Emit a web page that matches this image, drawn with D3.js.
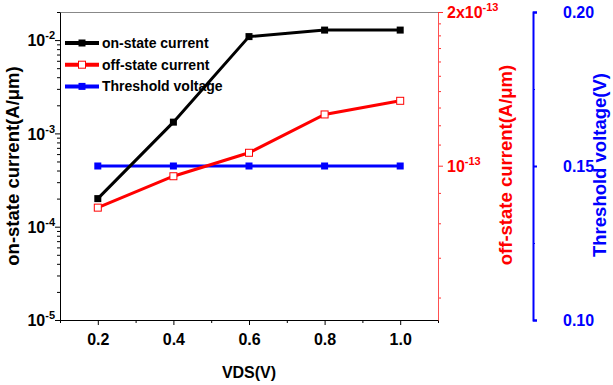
<!DOCTYPE html>
<html>
<head>
<meta charset="utf-8">
<script src="https://cdn.jsdelivr.net/npm/d3@7"></script>
<style>
  body { margin: 0; background: #fff; }
  text { font-family: "Liberation Sans", Arial, sans-serif; font-weight: bold; }
</style>
</head>
<body>
<div id="chart"></div>
<script>
// data
var vds = [0.2, 0.4, 0.6, 0.8, 1.0];
var onCurrent = [2.0e-4, 1.32e-3, 1.09e-2, 1.28e-2, 1.28e-2];
var offCurrent = [8.5e-14, 9.6e-14, 1.06e-13, 1.26e-13, 1.34e-13];
var vth = [0.15, 0.15, 0.15, 0.15, 0.15];

var xTicks = [0.2, 0.4, 0.6, 0.8, 1.0];
var onMajor = [1e-5, 1e-4, 1e-3, 1e-2];
var offMajor = [1e-13, 2e-13];
var offMinor = [6e-14, 7e-14, 8e-14, 9e-14, 1.1e-13, 1.2e-13, 1.3e-13, 1.4e-13, 1.5e-13, 1.6e-13, 1.7e-13, 1.8e-13, 1.9e-13];
var vthTicks = [0.10, 0.15, 0.20];
var vthMinor = [0.125, 0.175];

var legendItems = [
  {name: "on-state current", color: "#000", fill: "#000"},
  {name: "off-state current", color: "#ff0000", fill: "#fff"},
  {name: "Threshold voltage", color: "#0000ff", fill: "#0000ff"}
];

// plot box (named so they don't clash with window.top etc.)
var width = 613, height = 385;
var plotLeft = 60, plotRight = 438, plotTop = 12, plotBottom = 320;
var blueX = 533;

var svg = d3.select("#chart").append("svg")
    .attr("width", width)
    .attr("height", height);

// scales
var x = d3.scaleLinear().domain([0.1, 1.1]).range([plotLeft, plotRight]);
var yOn = d3.scaleLog().domain([1e-5, 2e-2]).range([plotBottom, plotTop]);
var yOff = d3.scaleLog().domain([5.5e-14, 1e-13, 2e-13]).range([plotBottom, 165.7, plotTop]);
var yVth = d3.scaleLinear().domain([0.10, 0.20]).range([plotBottom, plotTop]);

// minor ticks for the log axis (2..9 of every decade)
var onMinor = [];
for (var e = -5; e <= -2; e++) {
  for (var k = 2; k <= 9; k++) {
    var v = k * Math.pow(10, e);
    if (v <= 2e-2) onMinor.push(v);
  }
}

// top frame
svg.append("line")
    .attr("x1", plotLeft).attr("x2", plotRight)
    .attr("y1", plotTop + 0.5).attr("y2", plotTop + 0.5)
    .attr("stroke", "#888").attr("stroke-width", 1);

// x axis
var xMinor = [0.1, 0.3, 0.5, 0.7, 0.9, 1.1];
svg.append("g")
    .attr("transform", "translate(0," + plotBottom + ")")
    .call(d3.axisBottom(x).tickValues(xMinor).tickSize(3).tickFormat(""))
    .call(g => g.select(".domain").remove());
svg.append("g")
    .attr("transform", "translate(0," + plotBottom + ")")
    .call(d3.axisBottom(x).tickValues(xTicks).tickSize(5).tickSizeOuter(0)
        .tickFormat(d3.format(".1f")))
    .call(g => g.selectAll("text").attr("font-size", 16).attr("dy", "1.05em").attr("fill", "#000"));

svg.append("text")
    .attr("x", x(0.6)).attr("y", 378)
    .attr("text-anchor", "middle")
    .attr("font-size", 16)
    .text("VDS(V)");

// left axis (on-state current)
svg.append("g")
    .attr("transform", "translate(" + plotLeft + ",0)")
    .call(d3.axisLeft(yOn).tickValues(onMinor).tickSize(3).tickFormat(""))
    .call(g => g.select(".domain").remove());
var leftAxis = svg.append("g")
    .attr("transform", "translate(" + plotLeft + ",0)")
    .call(d3.axisLeft(yOn).tickValues(onMajor).tickSize(5).tickSizeOuter(0).tickFormat(""));

leftAxis.selectAll(".tick").append("text")
    .attr("x", -5).attr("dy", "0.35em")
    .attr("text-anchor", "end")
    .attr("fill", "#000")
    .attr("font-size", 16)
    .each(function(d) {
      var t = d3.select(this);
      t.append("tspan").text("10");
      t.append("tspan").attr("dy", -7).attr("font-size", 11).text(Math.round(Math.log10(d)));
    });

svg.append("text")
    .attr("transform", "translate(19,166) rotate(-90)")
    .attr("text-anchor", "middle")
    .attr("font-size", 18.5)
    .text("on-state current(A/\u03bcm)");

// right axis (off-state current)
svg.append("g")
    .attr("transform", "translate(" + plotRight + ",0)")
    .call(d3.axisRight(yOff).tickValues(offMinor).tickSize(3).tickFormat(""))
    .call(g => g.select(".domain").remove())
    .call(g => g.selectAll("line").attr("stroke", "#ff3030"));
var offAxis = svg.append("g")
    .attr("transform", "translate(" + plotRight + ",0)")
    .call(d3.axisRight(yOff).tickValues(offMajor).tickSize(5).tickSizeOuter(0).tickFormat(""))
    .call(g => g.select(".domain").attr("stroke", "#ff5050"))
    .call(g => g.selectAll("line").attr("stroke", "#ff3030"));

offAxis.selectAll(".tick").append("text")
    .attr("x", 9).attr("dy", "0.35em")
    .attr("text-anchor", "start")
    .attr("fill", "#ff0000")
    .attr("font-size", 16)
    .each(function(d) {
      var t = d3.select(this);
      var m = Math.round(d / 1e-13);
      t.append("tspan").text(m === 1 ? "10" : m + "x10");
      t.append("tspan").attr("dy", -7).attr("font-size", 11).text("-13");
    });

svg.append("text")
    .attr("transform", "translate(512,165) rotate(-90)")
    .attr("text-anchor", "middle")
    .attr("font-size", 18.5)
    .attr("fill", "#ff0000")
    .text("off-state current(A/\u03bcm)");

// third axis (threshold voltage)
svg.append("g")
    .attr("transform", "translate(" + blueX + ",0)")
    .call(d3.axisRight(yVth).tickValues(vthMinor).tickSize(2).tickFormat(""))
    .call(g => g.select(".domain").remove())
    .call(g => g.selectAll("line").attr("stroke", "#0000ff"));
svg.append("g")
    .attr("transform", "translate(" + blueX + ",0)")
    .call(d3.axisRight(yVth).tickValues(vthTicks).tickSize(4).tickSizeOuter(4)
        .tickFormat(d3.format(".2f")))
    .call(g => g.select(".domain").attr("stroke", "#0000ff").attr("stroke-width", 2))
    .call(g => g.selectAll("line").attr("stroke", "#0000ff").attr("stroke-width", 2))
    .call(g => g.selectAll("text").attr("fill", "#0000ff").attr("font-size", 16).attr("x", 30));

svg.append("text")
    .attr("transform", "translate(606,165) rotate(-90)")
    .attr("text-anchor", "middle")
    .attr("font-size", 18.5)
    .attr("fill", "#0000ff")
    .text("Threshold voltage(V)");

// series
function drawSeries(values, yScale, color, fill) {
  var pts = vds.map((d, i) => [x(d), yScale(values[i])]);
  svg.append("path")
      .attr("d", d3.line()(pts))
      .attr("fill", "none")
      .attr("stroke", color)
      .attr("stroke-width", 3);
  svg.selectAll(null)
      .data(pts)
      .enter()
      .append("rect")
      .attr("x", d => d[0] - 3.5)
      .attr("y", d => d[1] - 3.5)
      .attr("width", 7)
      .attr("height", 7)
      .attr("fill", fill)
      .attr("stroke", color)
      .attr("stroke-width", fill === "#fff" ? 1 : 0);
}

drawSeries(vth, yVth, "#0000ff", "#0000ff");
drawSeries(offCurrent, yOff, "#ff0000", "#fff");
drawSeries(onCurrent, yOn, "#000", "#000");

// legend
var legend = svg.append("g").attr("transform", "translate(65,43)");
legendItems.forEach(function(item, i) {
  var g = legend.append("g").attr("transform", "translate(0," + (i * 21.7) + ")");
  g.append("line")
      .attr("x1", 0).attr("x2", 34)
      .attr("stroke", item.color).attr("stroke-width", 4);
  g.append("rect")
      .attr("x", 13.5).attr("y", -3.5).attr("width", 7).attr("height", 7)
      .attr("fill", item.fill).attr("stroke", item.color)
      .attr("stroke-width", item.fill === "#fff" ? 1 : 0);
  g.append("text")
      .attr("x", 37).attr("dy", "0.35em")
      .attr("font-size", 14)
      .text(item.name);
});
</script>
</body>
</html>
